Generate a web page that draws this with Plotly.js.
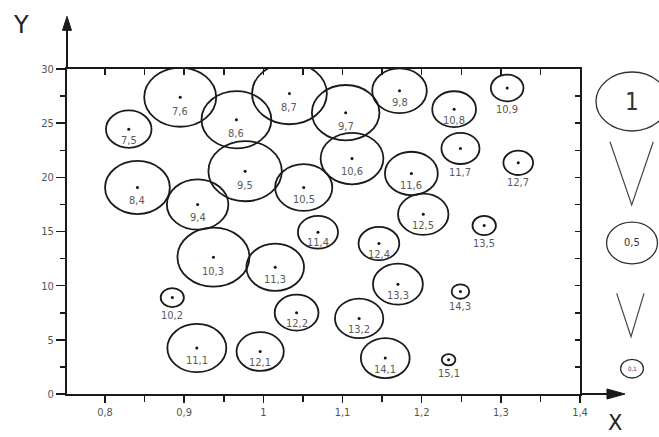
<!DOCTYPE html>
<html>
<head>
<meta charset="utf-8">
<script src="https://cdn.plot.ly/plotly-3.0.1.min.js"></script>
<style>html,body{margin:0;padding:0;background:#fff}#chart{width:659px;height:437px}</style>
</head>
<body>
<div id="chart"></div>
<script>
// ---- data ----
const labels = ['7,5','7,6','8,4','8,6','8,7','9,4','9,5','9,7','9,8','10,2','10,3','10,5','10,6','10,8','10,9','11,1','11,3','11,4','11,6','11,7','12,1','12,2','12,4','12,5','12,7','13,2','13,3','13,5','14,1','14,3','15,1'];
const xVals = [0.830,0.895,0.841,0.966,1.033,0.917,0.977,1.104,1.172,0.885,0.937,1.051,1.112,1.241,1.308,0.916,1.015,1.069,1.187,1.249,0.996,1.042,1.146,1.202,1.322,1.121,1.170,1.279,1.154,1.249,1.234];
const yVals = [24.45,27.39,19.06,25.32,27.73,17.49,20.57,25.97,27.99,8.90,12.63,19.06,21.73,26.29,28.25,4.24,11.70,14.93,20.36,22.67,3.92,7.51,13.89,16.59,21.34,6.98,10.14,15.55,3.32,9.46,3.16];
const sizes = [0.40,1.0,0.81,0.94,1.08,0.73,1.04,0.88,0.575,0.104,1.0,0.63,0.76,0.37,0.205,0.67,0.64,0.31,0.54,0.28,0.43,0.37,0.32,0.49,0.17,0.45,0.48,0.106,0.46,0.06,0.036];
const legendSizes = [1, 0.5, 0.1];
const legendLabels = ['1', '0,5', '0,1'];

// ---- layout geometry / styles ----
const W = 659, H = 437;
const M = {l: 67, r: 79, t: 69, b: 43};
const PW = W - M.l - M.r, PH = H - M.t - M.b;
const xRange = [0.752, 1.4], yRange = [0, 30];
const RX = 36, RY = 29.5; // px half-axes for size 1
const pxPerX = PW / (xRange[1] - xRange[0]);
const pxPerY = PH / (yRange[1] - yRange[0]);
const ink = '#1a1a1a', txt = '#5a5a5a';
const FONT = 'DejaVu Sans Condensed, Liberation Sans Narrow, DejaVu Sans, sans-serif';

const shapes = [];
const annotations = [];

xVals.forEach((x, i) => {
  const k = Math.sqrt(sizes[i]);
  const rx = RX * k / pxPerX, ry = RY * k / pxPerY;
  shapes.push({type: 'circle', xref: 'x', yref: 'y', x0: x - rx, x1: x + rx, y0: yVals[i] - ry, y1: yVals[i] + ry,
    line: {color: ink, width: 1.8}, fillcolor: 'rgba(0,0,0,0)', layer: 'above'});
  const off = sizes[i] < 0.3 ? RY * k + 8 : 9 + 5 * sizes[i];
  annotations.push({x: x, y: yVals[i], xref: 'x', yref: 'y', text: labels[i], showarrow: false, yshift: -off,
    xanchor: 'center', yanchor: 'middle', font: {family: FONT, size: 11, color: txt}});
});

// legend (paper coordinates)
const legY = [0.9, 0.4647, 0.078];
const legX = 1.1014;
const legFont = [24, 11, 6];
legendSizes.forEach((s, i) => {
  const k = Math.sqrt(s);
  const rx = RX * k / PW, ry = RY * k / PH;
  shapes.push({type: 'circle', xref: 'paper', yref: 'paper', x0: legX - rx, x1: legX + rx, y0: legY[i] - ry, y1: legY[i] + ry,
    line: {color: '#333', width: 1.3}, fillcolor: 'rgba(0,0,0,0)'});
  annotations.push({x: legX, y: legY[i], xref: 'paper', yref: 'paper', text: legendLabels[i], showarrow: false,
    xanchor: 'center', yanchor: 'middle', font: {family: FONT, size: legFont[i], color: '#333'}});
});
// V connectors in legend
shapes.push({type: 'path', xref: 'paper', yref: 'paper', path: 'M 1.0585 0.7763 L 1.1008 0.5815 L 1.1429 0.7763', line: {color: '#444', width: 1.2}});
shapes.push({type: 'path', xref: 'paper', yref: 'paper', path: 'M 1.0715 0.3098 L 1.0994 0.1763 L 1.1248 0.3098', line: {color: '#444', width: 1.2}});

// axis arrows
shapes.push({type: 'line', xref: 'paper', yref: 'paper', x0: 0, x1: 0, y0: 1, y1: 1.125, line: {color: ink, width: 2}});
shapes.push({type: 'path', xref: 'paper', yref: 'paper', path: 'M -0.0088 1.1189 L 0 1.1619 L 0.0088 1.1189 Z', fillcolor: ink, line: {color: ink, width: 1}});
shapes.push({type: 'line', xref: 'paper', yref: 'paper', x0: 1, x1: 1.056, y0: 0, y1: 0, line: {color: ink, width: 2}});
shapes.push({type: 'path', xref: 'paper', yref: 'paper', path: 'M 1.0526 0.0154 L 1.0877 0 L 1.0526 -0.0154 Z', fillcolor: ink, line: {color: ink, width: 1}});

// axis letters
annotations.push({x: -0.0897, y: 1.135, xref: 'paper', yref: 'paper', text: 'Y', showarrow: false, xanchor: 'center', yanchor: 'middle',
  font: {family: 'DejaVu Sans, sans-serif', size: 24, color: '#222'}});
annotations.push({x: 1.068, y: -0.088, xref: 'paper', yref: 'paper', text: 'X', showarrow: false, xanchor: 'center', yanchor: 'middle',
  font: {family: 'DejaVu Sans, sans-serif', size: 21, color: '#222'}});

const traces = [
  {type: 'scatter', mode: 'markers', x: xVals, y: yVals, marker: {size: 3, color: '#111'}, hoverinfo: 'skip', cliponaxis: false},
  {type: 'scatter', mode: 'markers', x: [xVals[0]], y: [yVals[0]], xaxis: 'x2', yaxis: 'y2', marker: {opacity: 0}, hoverinfo: 'skip'}
];

const tickFont = {family: FONT, size: 11, color: '#555'};
const layout = {
  width: W, height: H, margin: M, showlegend: false,
  paper_bgcolor: '#fff', plot_bgcolor: '#fff', separators: ', ',
  xaxis: {range: xRange, tick0: 0.8, dtick: 0.1, ticks: 'outside', ticklen: 7, tickwidth: 1.5, tickcolor: ink,
    showline: true, linecolor: ink, linewidth: 2, showgrid: false, zeroline: false, tickfont: tickFont,
    minor: {tick0: 0.8, dtick: 0.05, ticks: 'outside', ticklen: 5.5, tickwidth: 1.5, tickcolor: ink, showgrid: false}},
  yaxis: {range: yRange, tick0: 0, dtick: 5, ticks: 'outside', ticklen: 9, tickwidth: 1.5, tickcolor: ink,
    showline: true, linecolor: ink, linewidth: 2, showgrid: false, zeroline: false, tickfont: tickFont,
    minor: {dtick: 2.5, ticks: 'outside', ticklen: 5, tickwidth: 1.5, tickcolor: ink, showgrid: false}},
  xaxis2: {overlaying: 'x', side: 'top', range: xRange, tick0: 0.8, dtick: 0.05, ticks: 'inside', ticklen: 6, tickwidth: 1.5,
    tickcolor: ink, showticklabels: false, showline: true, linecolor: ink, linewidth: 2, showgrid: false, zeroline: false},
  yaxis2: {overlaying: 'y', side: 'right', range: yRange, dtick: 2.5, ticks: 'inside', ticklen: 5, tickwidth: 1.5,
    tickcolor: ink, showticklabels: false, showline: true, linecolor: ink, linewidth: 2, showgrid: false, zeroline: false},
  shapes: shapes, annotations: annotations
};

Plotly.newPlot('chart', traces, layout, {staticPlot: true, displayModeBar: false});
</script>
</body>
</html>
